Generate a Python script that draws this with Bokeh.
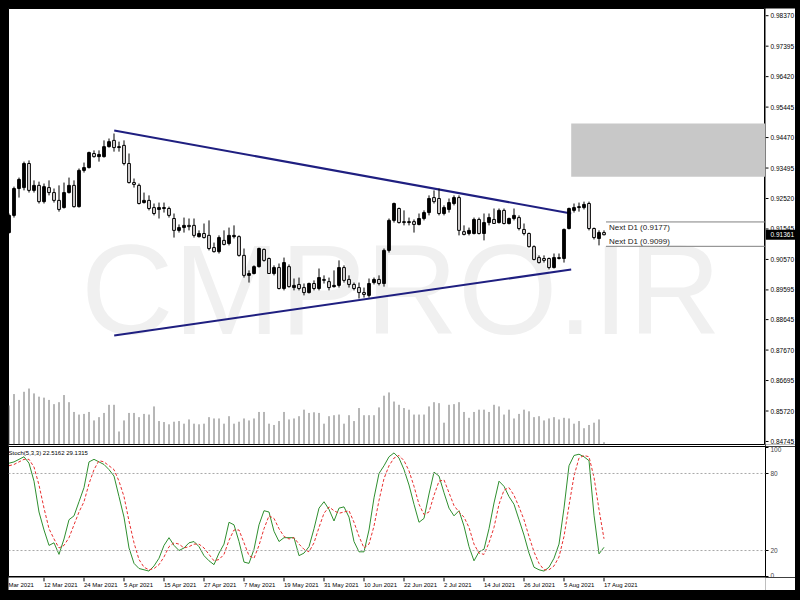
import pandas as pd
from bokeh.plotting import figure
from bokeh.layouts import column, row
from bokeh.models import Range1d, FixedTicker, Span, GlobalInlineStyleSheet
from bokeh.core.properties import value
from bokeh.embed import file_html
from bokeh.resources import INLINE

# ---------------- data (daily bars 3 Mar 2021 .. 17 Aug 2021) ----------------
opens = [0.9143, 0.9198, 0.9284, 0.9287, 0.9364, 0.9278, 0.9294, 0.9242, 0.9287, 0.9271,
         0.9246, 0.9223, 0.9271, 0.9294, 0.9226, 0.9342, 0.9351, 0.9396, 0.9386, 0.9386,
         0.9418, 0.9438, 0.9415, 0.9422, 0.9364, 0.9303, 0.9294, 0.9239, 0.9246, 0.9223,
         0.9217, 0.9220, 0.9220, 0.9188, 0.9150, 0.9159, 0.9166, 0.9166, 0.9130, 0.9140,
         0.9134, 0.9095, 0.9082, 0.9118, 0.9108, 0.9130, 0.9130, 0.9070, 0.9006, 0.9012,
         0.9034, 0.9089, 0.9060, 0.9012, 0.9031, 0.8964, 0.9034, 0.8967, 0.8977, 0.8967,
         0.8951, 0.8980, 0.8964, 0.8993, 0.8986, 0.8970, 0.8974, 0.9031, 0.8993, 0.8977,
         0.8967, 0.8951, 0.8942, 0.8983, 0.8993, 0.8980, 0.9086, 0.9182, 0.9220, 0.9178,
         0.9175, 0.9178, 0.9169, 0.9188, 0.9207, 0.9255, 0.9252, 0.9204, 0.9217, 0.9236,
         0.9255, 0.9146, 0.9140, 0.9140, 0.9185, 0.9140, 0.9175, 0.9185, 0.9175, 0.9214,
         0.9172, 0.9188, 0.9191, 0.9153, 0.9140, 0.9098, 0.9063, 0.9060, 0.9060, 0.9031,
         0.9063, 0.9060, 0.9156, 0.9214, 0.9223, 0.9223, 0.9236, 0.9156, 0.9124, 0.9143]
highs = [0.9204, 0.9290, 0.9319, 0.9370, 0.9374, 0.9310, 0.9306, 0.9300, 0.9310, 0.9284,
         0.9294, 0.9303, 0.9319, 0.9310, 0.9348, 0.9367, 0.9402, 0.9406, 0.9406, 0.9438,
         0.9444, 0.9460, 0.9434, 0.9438, 0.9396, 0.9316, 0.9300, 0.9271, 0.9262, 0.9236,
         0.9239, 0.9239, 0.9226, 0.9204, 0.9169, 0.9191, 0.9188, 0.9188, 0.9150, 0.9172,
         0.9182, 0.9111, 0.9134, 0.9150, 0.9159, 0.9166, 0.9134, 0.9092, 0.9022, 0.9038,
         0.9095, 0.9092, 0.9063, 0.9038, 0.9044, 0.9063, 0.9041, 0.8996, 0.8999, 0.8980,
         0.8983, 0.8990, 0.9028, 0.9006, 0.8999, 0.9022, 0.9054, 0.9038, 0.9006, 0.8983,
         0.8983, 0.8967, 0.8996, 0.8999, 0.9006, 0.9092, 0.9188, 0.9239, 0.9223, 0.9214,
         0.9191, 0.9185, 0.9204, 0.9214, 0.9262, 0.9278, 0.9284, 0.9230, 0.9252, 0.9262,
         0.9262, 0.9166, 0.9159, 0.9191, 0.9191, 0.9204, 0.9204, 0.9220, 0.9220, 0.9220,
         0.9191, 0.9220, 0.9198, 0.9172, 0.9143, 0.9102, 0.9070, 0.9070, 0.9063, 0.9076,
         0.9076, 0.9156, 0.9223, 0.9236, 0.9239, 0.9242, 0.9242, 0.9159, 0.9150, 0.9150]
lows = [0.9140, 0.9191, 0.9255, 0.9278, 0.9271, 0.9271, 0.9236, 0.9236, 0.9262, 0.9239,
        0.9210, 0.9220, 0.9268, 0.9223, 0.9223, 0.9335, 0.9348, 0.9383, 0.9370, 0.9383,
        0.9415, 0.9402, 0.9402, 0.9358, 0.9300, 0.9287, 0.9233, 0.9236, 0.9214, 0.9198,
        0.9188, 0.9207, 0.9191, 0.9127, 0.9143, 0.9143, 0.9150, 0.9127, 0.9127, 0.9124,
        0.9086, 0.9079, 0.9076, 0.9102, 0.9102, 0.9124, 0.9066, 0.8999, 0.8983, 0.9009,
        0.9031, 0.9050, 0.9012, 0.9006, 0.8961, 0.8958, 0.8967, 0.8958, 0.8958, 0.8942,
        0.8948, 0.8958, 0.8958, 0.8980, 0.8958, 0.8967, 0.8967, 0.8983, 0.8967, 0.8958,
        0.8932, 0.8935, 0.8935, 0.8977, 0.8974, 0.8970, 0.9079, 0.9175, 0.9172, 0.9166,
        0.9166, 0.9143, 0.9166, 0.9182, 0.9198, 0.9236, 0.9198, 0.9198, 0.9207, 0.9230,
        0.9134, 0.9134, 0.9134, 0.9137, 0.9137, 0.9118, 0.9166, 0.9172, 0.9172, 0.9169,
        0.9169, 0.9182, 0.9150, 0.9134, 0.9095, 0.9054, 0.9044, 0.9047, 0.9025, 0.9028,
        0.9057, 0.9047, 0.9153, 0.9207, 0.9210, 0.9217, 0.9150, 0.9121, 0.9102, 0.9134]
closes = [0.9198, 0.9284, 0.9313, 0.9364, 0.9278, 0.9294, 0.9242, 0.9290, 0.9271, 0.9246,
          0.9217, 0.9271, 0.9294, 0.9226, 0.9342, 0.9351, 0.9399, 0.9386, 0.9393, 0.9418,
          0.9434, 0.9415, 0.9418, 0.9364, 0.9303, 0.9297, 0.9236, 0.9246, 0.9220, 0.9204,
          0.9223, 0.9223, 0.9198, 0.9150, 0.9159, 0.9166, 0.9162, 0.9134, 0.9140, 0.9127,
          0.9092, 0.9082, 0.9127, 0.9105, 0.9134, 0.9134, 0.9070, 0.9006, 0.9012, 0.9034,
          0.9092, 0.9054, 0.9012, 0.9031, 0.8964, 0.9047, 0.8970, 0.8974, 0.8964, 0.8951,
          0.8980, 0.8964, 0.8999, 0.8990, 0.8967, 0.8974, 0.9031, 0.8990, 0.8977, 0.8964,
          0.8951, 0.8945, 0.8980, 0.8993, 0.8980, 0.9086, 0.9182, 0.9236, 0.9175, 0.9175,
          0.9178, 0.9169, 0.9188, 0.9207, 0.9252, 0.9242, 0.9204, 0.9223, 0.9239, 0.9255,
          0.9150, 0.9137, 0.9150, 0.9185, 0.9140, 0.9175, 0.9191, 0.9172, 0.9214, 0.9172,
          0.9188, 0.9198, 0.9156, 0.9140, 0.9098, 0.9057, 0.9047, 0.9054, 0.9031, 0.9063,
          0.9060, 0.9153, 0.9220, 0.9223, 0.9226, 0.9233, 0.9156, 0.9127, 0.9143, 0.91361]
volume_k = [60, 77.5, 68.5, 81, 86, 78.5, 73.5, 72, 68.5, 62,
            65, 76, 65, 50, 46, 47, 50, 37, 42, 48.5,
            61, 61, 20, 37, 48.5, 48.5, 42, 47, 46, 58.5,
            36, 34.5, 31, 35, 36, 32, 38.5, 32, 31, 32,
            42, 40, 40, 32, 43.5, 32, 35, 40, 37, 40,
            50, 50, 32, 30, 36, 50, 38.5, 40, 43.5, 53.5,
            48.5, 49.5, 48.5, 32, 43.5, 45, 46, 32, 45, 36,
            56, 45, 45, 45, 57, 75, 80, 66, 61, 56,
            53.5, 46, 46, 46, 58.5, 65, 63.5, 33.5, 61, 62,
            65, 50, 41, 50, 53.5, 53.5, 50, 61, 58.5, 46,
            53.5, 40, 47, 53.5, 51, 42, 43.5, 37, 40, 42,
            38.5, 41, 40, 32, 36, 25, 30, 33.5, 38.5, 3.5]
stoch_k = [88, 89, 91, 93, 88, 74, 50, 36, 24, 26,
           17, 29, 44, 47, 58, 69, 89, 91, 89, 87,
           83, 78, 62, 46, 22, 10, 6, 5, 4, 8,
           14, 24, 30, 24, 20, 22, 26, 27, 23, 16,
           12, 9, 18, 25, 42, 40, 27, 11, 10, 21,
           40, 51, 50, 35, 27, 30, 30, 30, 16, 18,
           23, 37, 53, 58, 52, 43, 53, 54, 46, 27,
           19, 19, 36, 61, 80, 86, 93, 96, 92, 83,
           71, 56, 42, 45, 64, 81, 78, 65, 53, 47,
           51, 39, 23, 12, 19, 21, 37, 57, 74, 70,
           62, 56, 44, 32, 18, 7, 5, 4, 7, 14,
           25, 53, 86, 94, 95, 93, 90, 47.5, 17.4, 22.5162]
stoch_d = [86, 87, 89, 91, 91, 85, 71, 53, 37, 29,
           22, 24, 30, 40, 50, 58, 72, 83, 90, 89,
           86, 83, 74, 62, 43, 26, 13, 7, 5, 6,
           9, 15, 23, 26, 25, 22, 23, 25, 25, 22,
           17, 12, 13, 17, 28, 36, 36, 26, 16, 14,
           24, 37, 47, 45, 37, 31, 29, 30, 25, 21,
           19, 26, 38, 49, 54, 51, 49, 50, 51, 42,
           31, 22, 25, 39, 59, 76, 86, 92, 94, 90,
           82, 70, 56, 48, 50, 63, 74, 75, 65, 55,
           50, 46, 38, 25, 18, 17, 26, 38, 56, 67,
           69, 63, 54, 44, 31, 19, 10, 5, 5, 8,
           15, 31, 55, 78, 92, 94, 93, 77, 52, 29.1315]

price_ticks = [0.98370, 0.97395, 0.96420, 0.95445, 0.94470, 0.93495, 0.92520, 0.91545,
               0.90570, 0.89595, 0.88645, 0.87670, 0.86695, 0.85720, 0.84745]
stoch_ticks = [0, 20, 80, 100]
stoch_levels = [20, 80]
first_date_label = "Mar 2021"
date_labels = ["12 Mar 2021", "24 Mar 2021", "5 Apr 2021", "15 Apr 2021",
               "27 Apr 2021", "7 May 2021", "19 May 2021", "31 May 2021", "10 Jun 2021",
               "22 Jun 2021", "2 Jul 2021", "14 Jul 2021", "26 Jul 2021", "5 Aug 2021",
               "17 Aug 2021"]
trend_upper_x = [21.04, 112.44]
trend_upper_y = [0.94696, 0.92040]
trend_lower_x = [21.04, 112.44]
trend_lower_y = [0.88136, 0.90248]
zone_left = [112.44]
zone_top = [0.9492]
zone_bottom = [0.9322]
next_d1_levels = [0.9177, 0.9099]
next_d1_start = 119.4
last_price = 0.91361
stoch_title = "Stoch(5,3,3) 22.5162 29.1315"
watermark = "CMPRO.IR"

# ---------------- setup ----------------
all_days = pd.bdate_range("2021-03-03", "2021-08-17")
n = len(all_days)
idx = list(range(n))
FONT = "Liberation Sans"
X0, X1 = -0.1, 151.3
FW = 757
RB = 30

bull_x = [i for i in idx if closes[i] >= opens[i]]
bear_x = [i for i in idx if closes[i] < opens[i]]


def base_fig(**kw):
    f = figure(output_backend="svg", toolbar_location=None, min_border=0,
               background_fill_color="white", border_fill_color="white", **kw)
    f.grid.visible = False
    return f


# ---------------- main price window ----------------
main = base_fig(frame_width=FW, frame_height=436, x_range=Range1d(X0, X1),
                y_range=Range1d(0.84648, 0.98600), x_axis_location=None,
                y_axis_location=None, min_border_bottom=2, outline_line_color="black")

main.text(x=[78.4], y=[0.8962], text=[watermark], text_align="center",
          text_baseline="middle", text_font_size="128px",
          text_font=value(FONT), text_color="#f0f0f0")

main.quad(left=zone_left, right=[X1 + 5], top=zone_top, bottom=zone_bottom,
          fill_color="#c8c8c8", line_color=None)

main.extra_y_ranges = {"vol": Range1d(0, 670)}
main.segment(x0=idx, y0=[0] * n, x1=idx, y1=volume_k, y_range_name="vol",
             line_color="#6e6e6e", line_width=1)

main.line(trend_upper_x, trend_upper_y, line_color="#1f1f80", line_width=2)
main.line(trend_lower_x, trend_lower_y, line_color="#1f1f80", line_width=2)

main.segment(x0=idx, y0=lows, x1=idx, y1=highs, line_color="black", line_width=1)
main.vbar(x=bull_x, width=0.55, top=[closes[i] for i in bull_x],
          bottom=[opens[i] for i in bull_x], fill_color="black", line_color="black",
          line_width=1)
main.vbar(x=bear_x, width=0.55, top=[opens[i] for i in bear_x],
          bottom=[closes[i] for i in bear_x], fill_color="#ebe7e7", line_color="black",
          line_width=1)

main.segment(x0=[next_d1_start] * 2, y0=next_d1_levels, x1=[X1 + 5] * 2,
             y1=next_d1_levels, line_color="#808080", line_width=1)
main.text(x=[next_d1_start + 0.6], y=[next_d1_levels[0]],
          text=["Next D1 (%.4f)" % next_d1_levels[0]], text_baseline="top",
          y_offset=1, text_font_size="8px", text_font=value(FONT), text_color="#222222")
main.text(x=[next_d1_start + 0.6], y=[next_d1_levels[1]],
          text=["Next D1 (%.4f)" % next_d1_levels[1]], text_baseline="bottom",
          y_offset=0, text_font_size="8px", text_font=value(FONT), text_color="#222222")

# ---------------- price scale (right) ----------------
pscale = base_fig(frame_width=RB, frame_height=436, x_range=Range1d(0, RB),
                  y_range=main.y_range, x_axis_location=None, y_axis_location=None,
                  min_border_bottom=2, outline_line_color=None)
nt = len(price_ticks)
pscale.segment(x0=[0] * nt, y0=price_ticks, x1=[3] * nt, y1=price_ticks,
               line_color="black", line_width=1)
pscale.text(x=[5] * nt, y=price_ticks, text=["%.5f" % t for t in price_ticks],
            text_baseline="middle", text_align="left", text_font_size="6.5px",
            text_font=value(FONT), text_color="black")
pscale.rect(x=[RB / 2], y=[last_price], width=[RB], height=[10], height_units="screen",
            fill_color="black", line_color=None)
pscale.text(x=[5], y=[last_price], text=["%.5f" % last_price],
            text_baseline="middle", text_align="left", text_font_size="6.5px",
            text_font=value(FONT), text_color="white")

# ---------------- stochastic ----------------
stoch = base_fig(frame_width=FW, frame_height=131, x_range=main.x_range,
                 y_range=Range1d(-1, 101), x_axis_location=None, y_axis_location="right",
                 min_border_right=RB, outline_line_color="black")
sa = stoch.yaxis[0]
sa.ticker = FixedTicker(ticks=stoch_ticks)
sa.major_label_text_font_size = "6.5px"
sa.major_label_text_font = FONT
sa.major_tick_out = 3
sa.major_tick_in = 0
sa.minor_tick_out = 0
sa.minor_tick_in = 0
sa.major_label_standoff = 2
sa.axis_line_color = "black"
for lv in stoch_levels:
    stoch.add_layout(Span(location=lv, dimension="width", line_color="#a8a8a8",
                          line_dash="2 2", line_width=1))
stoch.line(idx, stoch_k, line_color="#2f8f2f", line_width=1)
stoch.line(idx, stoch_d, line_color="#e83030", line_width=1, line_dash="3 2")
stoch.text(x=[X0], y=[101], text=[stoch_title], text_baseline="top", x_offset=0,
           y_offset=3, text_font_size="6px", text_font=value(FONT), text_color="black")

# ---------------- date row ----------------
tick_pos = [all_days.get_loc(pd.Timestamp(d)) for d in date_labels]
dates = base_fig(frame_width=FW, frame_height=13, x_range=main.x_range,
                 y_range=Range1d(0, 1), x_axis_location=None, y_axis_location=None,
                 min_border_right=RB, outline_line_color=None)
dates.segment(x0=tick_pos, y0=[1] * len(tick_pos), x1=tick_pos,
              y1=[0.7] * len(tick_pos), line_color="black", line_width=1)
dates.text(x=[X0] + tick_pos, y=[0.42] * (len(tick_pos) + 1),
           text=[first_date_label] + date_labels, text_align="left",
           text_baseline="middle", x_offset=0, text_font_size="6px",
           text_font=value(FONT), text_color="black")

css = ("html, body { background: #000000 !important; } "
       "body { padding: 8px !important; }")
layout = column(row(main, pscale, spacing=0), stoch, dates, spacing=0,
                stylesheets=[GlobalInlineStyleSheet(css=css)])

open("out.html", "w").write(file_html(layout, INLINE))
